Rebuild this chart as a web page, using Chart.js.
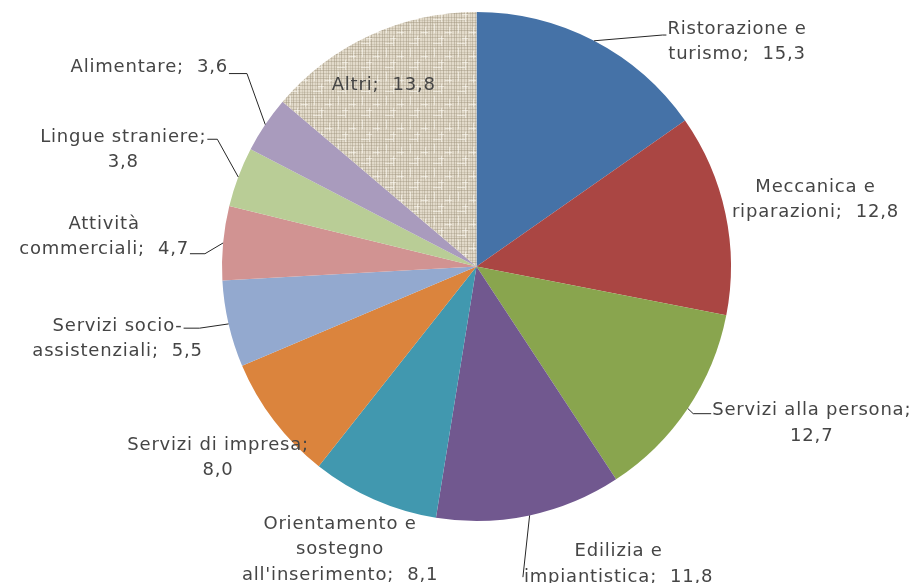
<!DOCTYPE html>
<html><head><meta charset="utf-8">
<script src="https://cdn.jsdelivr.net/npm/chart.js@4"></script>
<style>html,body{margin:0;padding:0;background:#fff}#wrap{width:914px;height:583px}</style>
</head><body><div id="wrap"><canvas id="c" width="914" height="583"></canvas></div>
<script>
const categories = ["Ristorazione e turismo","Meccanica e riparazioni","Servizi alla persona","Edilizia e impiantistica","Orientamento e sostegno all'inserimento","Servizi di impresa","Servizi socio-assistenziali","Attività commerciali","Lingue straniere","Alimentare","Altri"];
const values = [15.3,12.8,12.7,11.8,8.1,8.0,5.5,4.7,3.8,3.6,13.8];
const labelLines = [
  ["Ristorazione e","turismo;  15,3"],
  ["Meccanica e","riparazioni;  12,8"],
  ["Servizi alla persona;","12,7"],
  ["Edilizia e","impiantistica;  11,8"],
  ["Orientamento e","sostegno","all'inserimento;  8,1"],
  ["Servizi di impresa;","8,0"],
  ["Servizi socio-","assistenziali;  5,5"],
  ["Attività","commerciali;  4,7"],
  ["Lingue straniere;","3,8"],
  ["Alimentare;  3,6"],
  ["Altri;  13,8"]
];
const sliceColors = ["#4572A7","#AA4643","#89A54E","#71588F","#4198AF","#DB843D","#93A9CF","#D19392","#B9CD96","#A99BBD",null];

// label placement relative to the slice's outer edge point at mid-angle (style only)
const labelPlace = [
  {dx:143, dy:1,   leader:'left',  line:0, ly:6,  elbow:4},
  {dx:90,  dy:-14, leader:null},
  {dx:124, dy:15,  leader:'left',  line:0, ly:3,  elbow:18},
  {dx:89,  dy:49,  leader:'left',  line:1, ly:0,  elbow:0},
  {dx:-34, dy:50,  leader:null},
  {dx:-56, dy:37,  leader:null},
  {dx:-111,dy:15,  leader:'right', line:0, ly:2,  elbow:16},
  {dx:-119,dy:-6,  leader:'right', line:1, ly:4,  elbow:15},
  {dx:-115,dy:-27, leader:'right', line:0, ly:2,  elbow:10},
  {dx:-116,dy:-57, leader:'right', line:0, ly:6,  elbow:18},
  {dx:14,  dy:50,  leader:null}
];

function makeTexture(){
  const S=24;
  const t=document.createElement('canvas'); t.width=S; t.height=S;
  const g=t.getContext('2d');
  g.fillStyle='#E2DACA'; g.fillRect(0,0,S,S);
  const vx=[[0,.35],[3,.2],[5,.4],[8,.25],[11,.45],[14,.2],[16,.35],[19,.3],[22,.4]];
  const hy=[[1,.3],[4,.2],[6,.4],[10,.25],[13,.35],[17,.3],[20,.2],[22,.4]];
  vx.forEach(([x,a])=>{g.fillStyle='rgba(150,138,115,'+a+')';g.fillRect(x,0,1,S);});
  hy.forEach(([y,a])=>{g.fillStyle='rgba(150,138,115,'+a+')';g.fillRect(0,y,S,1);});
  g.fillStyle='rgba(250,248,240,0.55)';
  [[2,0,1,9],[9,12,1,10],[17,3,1,8],[6,14,6,1],[13,8,7,1],[1,19,8,1]].forEach(r=>g.fillRect(...r));
  const ctx=document.getElementById('c').getContext('2d');
  return ctx.createPattern(t,'repeat');
}
const bg = sliceColors.map(c=>c===null?makeTexture():c);

const FONT = '18px "DejaVu Sans", sans-serif';
const LH = 25.5;

const labelPlugin = {
  id:'pieLabels',
  afterDatasetsDraw(chart){
    const ctx=chart.ctx;
    const meta=chart.getDatasetMeta(0);
    ctx.save();
    ctx.font=FONT; ctx.letterSpacing='0.8px';
    ctx.fillStyle='#454545'; ctx.textAlign='center'; ctx.textBaseline='middle';
    ctx.strokeStyle='#262626'; ctx.lineWidth=1;
    meta.data.forEach((arc,i)=>{
      const p=arc.getProps(['x','y','startAngle','endAngle','outerRadius'],true);
      const mid=(p.startAngle+p.endAngle)/2;
      const ex=p.x+Math.cos(mid)*p.outerRadius, ey=p.y+Math.sin(mid)*p.outerRadius;
      const pl=labelPlace[i], lines=labelLines[i];
      const cx=ex+pl.dx, cy=ey+pl.dy;
      const y0=cy-(lines.length-1)*LH/2;
      lines.forEach((s,k)=>ctx.fillText(s,cx,y0+k*LH));
      if(pl.leader){
        const w=ctx.measureText(lines[pl.line]).width;
        const ly=y0+pl.line*LH+pl.ly;
        const tx = pl.leader==='left' ? cx-w/2-1 : cx+w/2+1;
        const bx = pl.leader==='left' ? tx-pl.elbow : tx+pl.elbow;
        ctx.beginPath(); ctx.moveTo(ex,ey); ctx.lineTo(bx,ly); ctx.lineTo(tx,ly); ctx.stroke();
      }
    });
    ctx.restore();
  }
};

new Chart(document.getElementById('c'),{
  type:'pie',
  data:{labels:categories,datasets:[{data:values,backgroundColor:bg,borderWidth:0}]},
  options:{
    responsive:false, animation:false, devicePixelRatio:1,
    layout:{padding:{top:12,bottom:62,left:39,right:0}},
    plugins:{legend:{display:false},tooltip:{enabled:false}}
  },
  plugins:[labelPlugin]
});
</script></body></html>
